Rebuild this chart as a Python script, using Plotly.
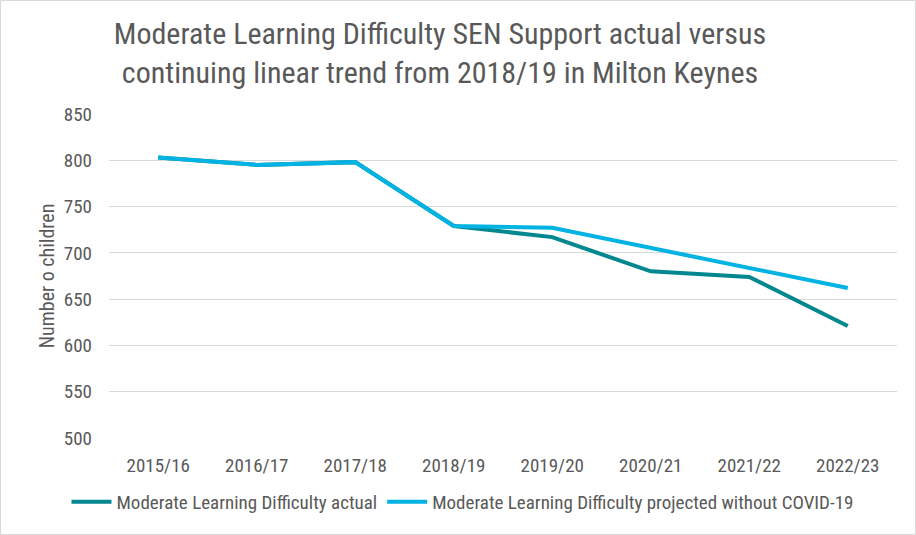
import plotly.graph_objects as go

years = ["2015/16", "2016/17", "2017/18", "2018/19", "2019/20", "2020/21", "2021/22", "2022/23"]
actual = [803, 795, 798, 729, 717, 680, 674, 621]
projected = [803, 795, 798, 729, 727, 705, 683, 662]

FONT = "Liberation Sans Narrow, Roboto Condensed, Arial Narrow, sans-serif"
TXT = "#595959"

fig = go.Figure()
fig.add_trace(go.Scatter(x=years, y=actual, mode="lines", name="Moderate Learning Difficulty actual",
                         line=dict(color="#00878F", width=4)))
fig.add_trace(go.Scatter(x=years, y=projected, mode="lines", name="Moderate Learning Difficulty projected without COVID-19",
                         line=dict(color="#00B3E3", width=4)))

L, R, T, B = 109, 19, 114, 97
W, H = 916, 535
pw, ph = W - L - R, H - T - B

fig.update_layout(
    width=W, height=H,
    margin=dict(l=L, r=R, t=T, b=B),
    paper_bgcolor="white", plot_bgcolor="white",
    font=dict(family=FONT, color=TXT, size=19),
    title=dict(text="Moderate Learning Difficulty SEN Support actual versus<br>continuing linear trend from 2018/19 in Milton Keynes",
               x=440 / W, xanchor="center", y=1 - 44 / H, yanchor="middle",
               font=dict(size=30, color=TXT, family=FONT)),
    showlegend=True,
    legend=dict(orientation="h", x=((60 + 865) / 2 - L) / pw, xanchor="center",
                y=(438 - 502) / ph, yanchor="middle", font=dict(size=19, color=TXT), itemwidth=40),
    xaxis=dict(range=[-0.5, 7.5], showgrid=False, showline=False, ticks="", ticklabelstandoff=14,
               tickfont=dict(size=19, color=TXT)),
    yaxis=dict(range=[500, 850], dtick=50, showgrid=True, gridcolor="#D9D9D9", gridwidth=1,
               zeroline=False, showline=False, ticks="", ticklabelstandoff=16, tickfont=dict(size=19, color=TXT),
               title=dict(text="Number o children", font=dict(size=20, color=TXT), standoff=3)),
)
fig.add_shape(type="rect", xref="paper", yref="paper",
              x0=(0.5 - L) / pw, x1=(W - 0.5 - L) / pw,
              y0=(438 - (H - 0.5)) / ph, y1=(438 - 0.5) / ph,
              line=dict(color="#D9D9D9", width=1), fillcolor="rgba(0,0,0,0)", layer="below")
fig.write_html("out.html")
